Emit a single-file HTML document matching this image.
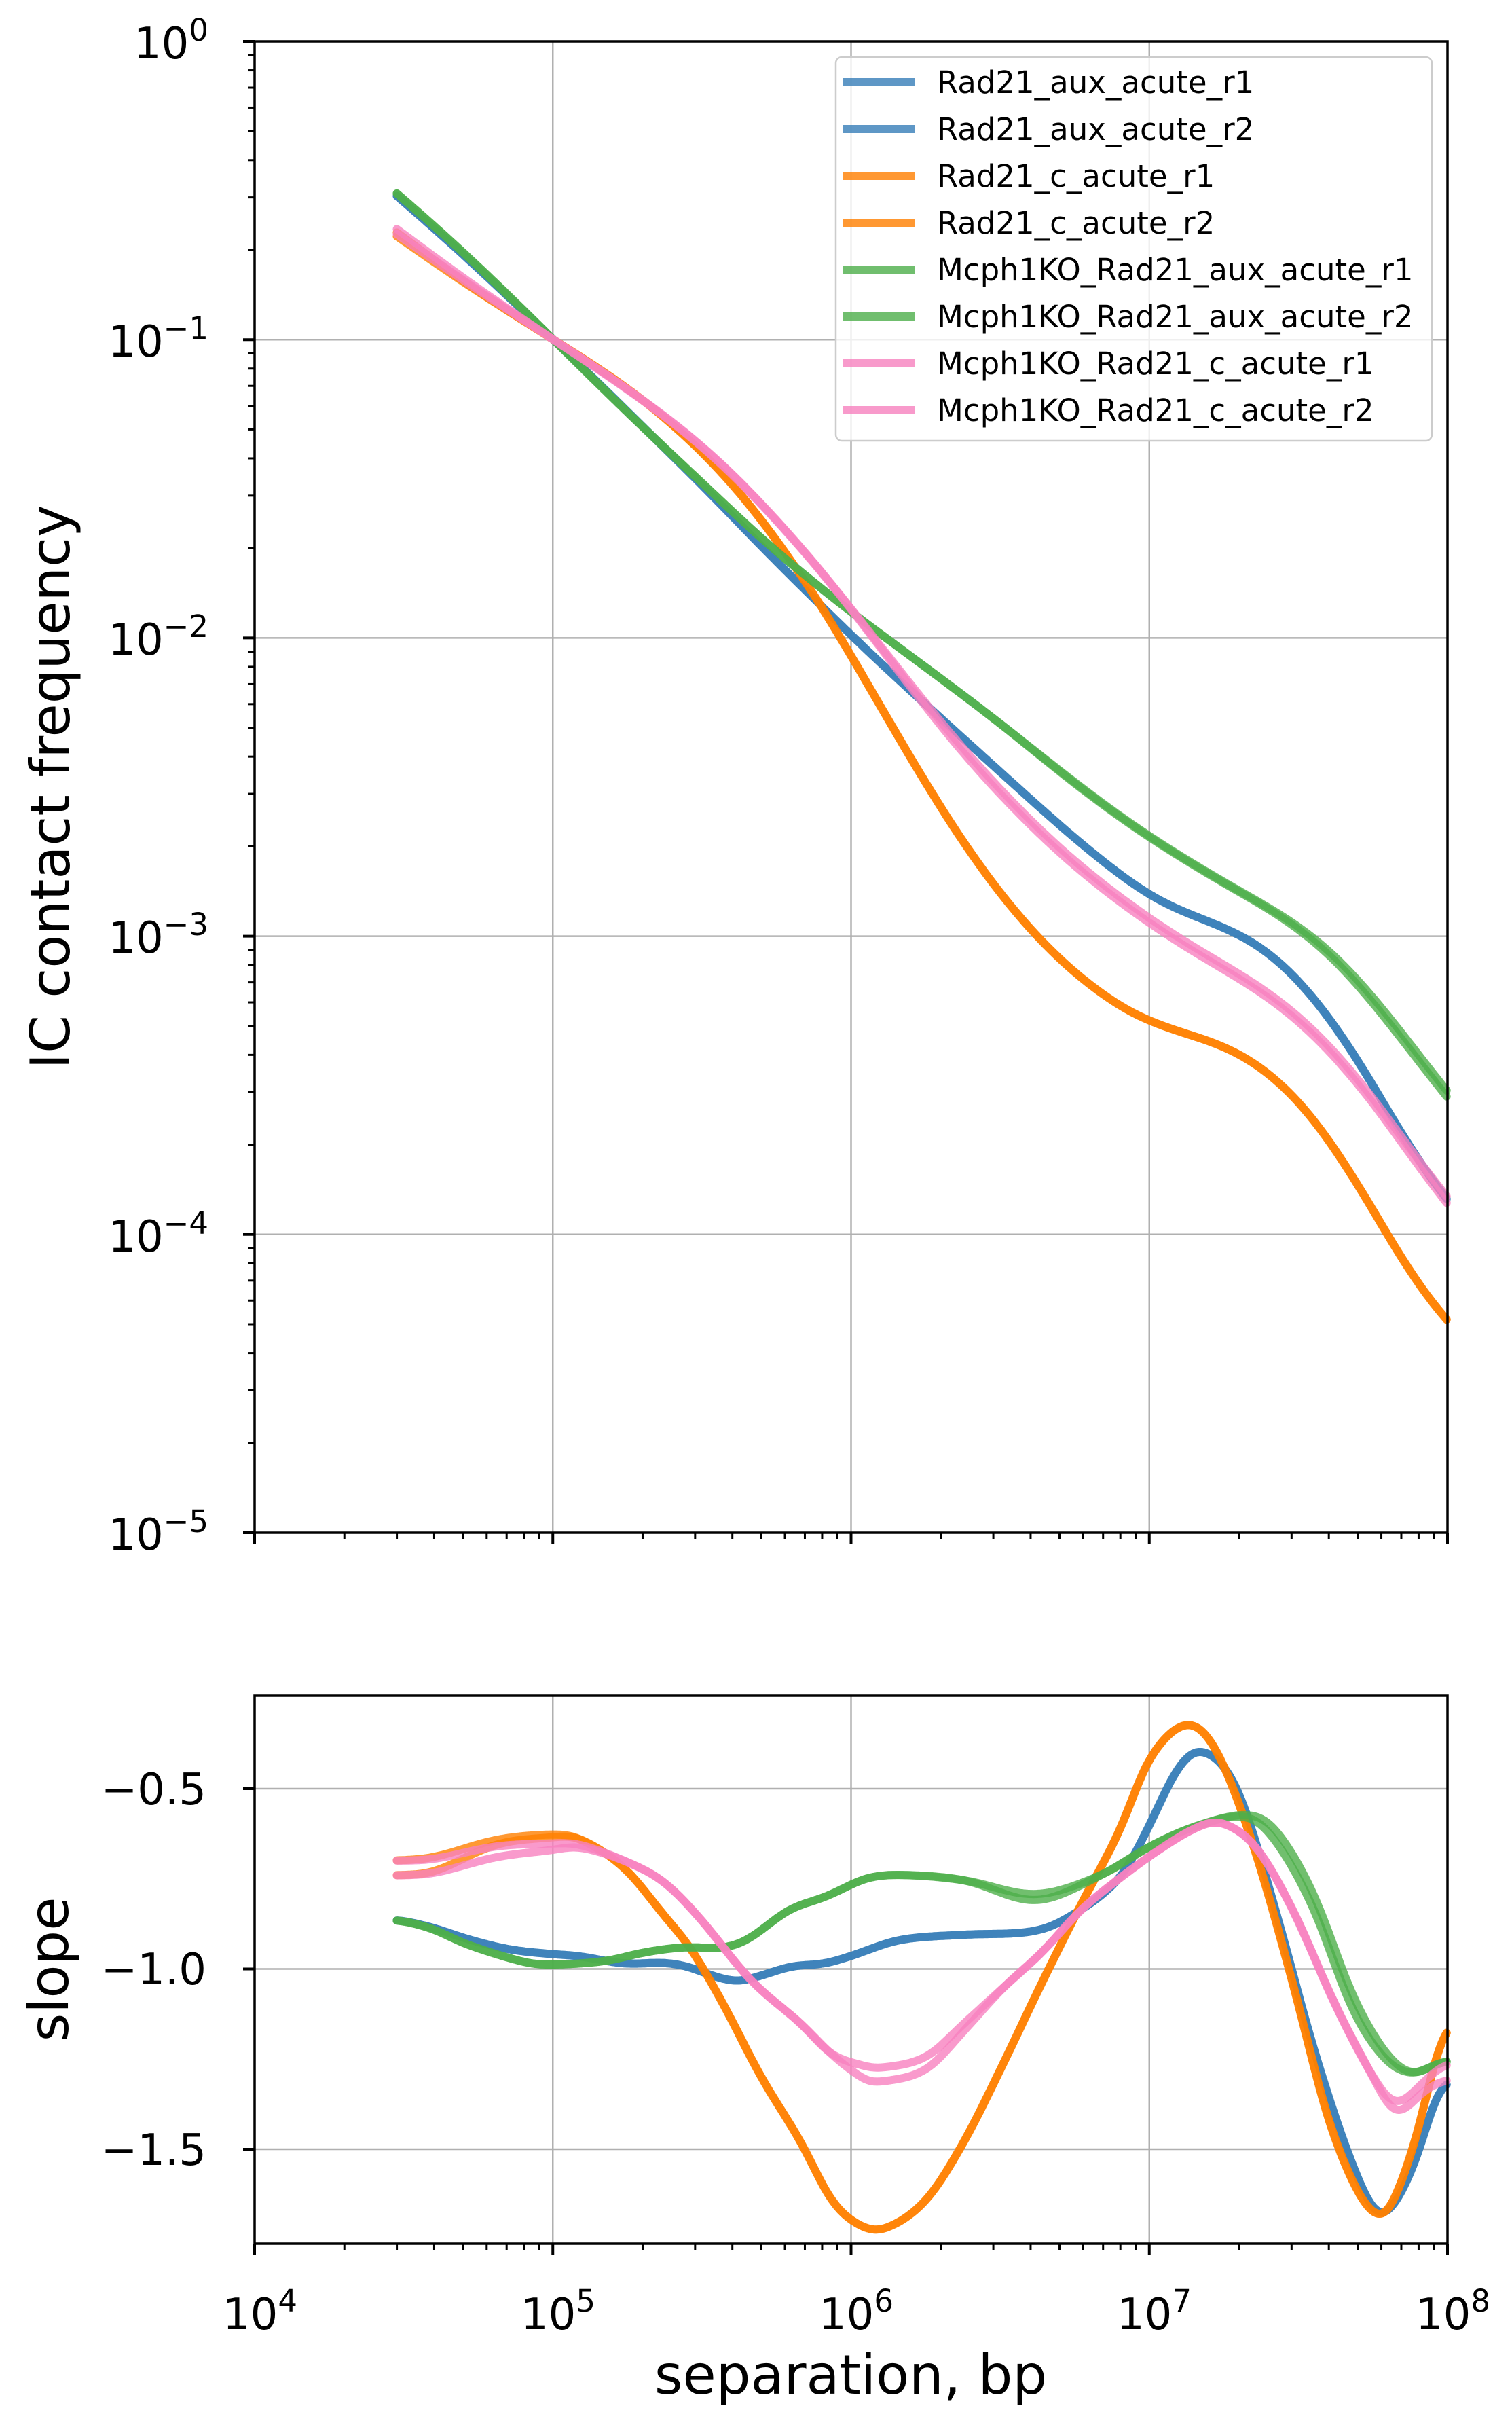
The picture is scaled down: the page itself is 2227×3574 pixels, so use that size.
<!DOCTYPE html>
<html><head><meta charset="utf-8"><style>
html,body{margin:0;padding:0;background:#fff;}
svg{display:block;}
text{font-family:"DejaVu Sans","Liberation Sans",sans-serif;fill:#000;}
</style></head><body>
<svg id="s" width="2227" height="3574" viewBox="0 0 2227 3574" xmlns="http://www.w3.org/2000/svg">
<rect width="2227" height="3574" fill="#fff"/>
<g id="grid" stroke="#b0b0b0" stroke-width="2.5" fill="none"></g>
<g id="curves" fill="none" stroke-linejoin="round" stroke-linecap="round"></g>
<g id="axes" stroke="#000" fill="none"></g>
<!-- legend -->
<rect x="1231" y="84" width="878" height="565" rx="9" fill="#fff" fill-opacity="0.8" stroke="#cccccc" stroke-width="2.5"/>
<g stroke-width="12" opacity="0.8">
<line x1="1242" y1="121" x2="1347" y2="121" stroke="#377eb8"/>
<line x1="1242" y1="190" x2="1347" y2="190" stroke="#377eb8"/>
<line x1="1242" y1="259" x2="1347" y2="259" stroke="#ff7f00"/>
<line x1="1242" y1="328" x2="1347" y2="328" stroke="#ff7f00"/>
<line x1="1242" y1="397" x2="1347" y2="397" stroke="#4daf4a"/>
<line x1="1242" y1="466" x2="1347" y2="466" stroke="#4daf4a"/>
<line x1="1242" y1="535" x2="1347" y2="535" stroke="#f781bf"/>
<line x1="1242" y1="604" x2="1347" y2="604" stroke="#f781bf"/>
</g>
<g font-size="45">
<text x="1380" y="137">Rad21_aux_acute_r1</text>
<text x="1380" y="206">Rad21_aux_acute_r2</text>
<text x="1380" y="275">Rad21_c_acute_r1</text>
<text x="1380" y="344">Rad21_c_acute_r2</text>
<text x="1380" y="413">Mcph1KO_Rad21_aux_acute_r1</text>
<text x="1380" y="482">Mcph1KO_Rad21_aux_acute_r2</text>
<text x="1380" y="551">Mcph1KO_Rad21_c_acute_r1</text>
<text x="1380" y="620">Mcph1KO_Rad21_c_acute_r2</text>
</g>
<!-- y tick labels top -->
<g font-size="64" text-anchor="end">
<text x="307" y="86">10<tspan font-size="45" dy="-26">0</tspan></text>
<text x="307" y="525">10<tspan font-size="45" dy="-26">−1</tspan></text>
<text x="307" y="964">10<tspan font-size="45" dy="-26">−2</tspan></text>
<text x="307" y="1403">10<tspan font-size="45" dy="-26">−3</tspan></text>
<text x="307" y="1843">10<tspan font-size="45" dy="-26">−4</tspan></text>
<text x="307" y="2282">10<tspan font-size="45" dy="-26">−5</tspan></text>
<text x="304" y="2657">−0.5</text>
<text x="304" y="2922">−1.0</text>
<text x="304" y="3188">−1.5</text>
</g>
<g font-size="64" text-anchor="middle">
<text x="383" y="3430">10<tspan font-size="45" dy="-26">4</tspan></text>
<text x="822" y="3430">10<tspan font-size="45" dy="-26">5</tspan></text>
<text x="1261" y="3430">10<tspan font-size="45" dy="-26">6</tspan></text>
<text x="1700" y="3430">10<tspan font-size="45" dy="-26">7</tspan></text>
<text x="2140" y="3430">10<tspan font-size="45" dy="-26">8</tspan></text>
</g>
<text x="1253" y="3525" font-size="80" text-anchor="middle">separation, bp</text>
<text transform="translate(102,1159) rotate(-90)" font-size="80" text-anchor="middle">IC contact frequency</text>
<text transform="translate(100,2900) rotate(-90)" font-size="80" text-anchor="middle">slope</text>
</svg>
<script>
(function(){
var NS="http://www.w3.org/2000/svg";
function X(l){return 375+(l-4)*439.25;}
function YT(lp){return 61-lp*439.2;}
function YS(s){return 2634+(-0.5-s)*531;}
function el(p,n,a){var e=document.createElementNS(NS,n);for(var k in a)e.setAttribute(k,a[k]);p.appendChild(e);return e;}
var grid=document.getElementById('grid'),axes=document.getElementById('axes'),cur=document.getElementById('curves');
for(var d=5;d<=7;d++){el(grid,'line',{x1:X(d),y1:61,x2:X(d),y2:2257});el(grid,'line',{x1:X(d),y1:2497,x2:X(d),y2:3304});}
for(var d=-1;d>=-4;d--){el(grid,'line',{x1:375,y1:YT(d),x2:2132,y2:YT(d)});}
[-0.5,-1,-1.5].forEach(function(s){el(grid,'line',{x1:375,y1:YS(s),x2:2132,y2:YS(s)});});
el(axes,'rect',{x:375,y:61,width:1757,height:2196,'stroke-width':3.5});
el(axes,'rect',{x:375,y:2497,width:1757,height:807,'stroke-width':3.5});
function xt(yb){for(var d=4;d<=8;d++){var x=X(d);el(axes,'line',{x1:x,y1:yb,x2:x,y2:yb+17,'stroke-width':4});
 if(d<8)for(var k=2;k<=9;k++){var xx=X(d+Math.log10(k));el(axes,'line',{x1:xx,y1:yb,x2:xx,y2:yb+9,'stroke-width':3});}}}
xt(2257);xt(3304);
for(var d=0;d>=-5;d--){var y=YT(d);el(axes,'line',{x1:358,y1:y,x2:375,y2:y,'stroke-width':4});
 if(d>-5)for(var k=2;k<=9;k++){var yy=YT(d-1+Math.log10(k));el(axes,'line',{x1:366,y1:yy,x2:375,y2:yy,'stroke-width':3});}}
[-0.5,-1,-1.5].forEach(function(s){el(axes,'line',{x1:358,y1:YS(s),x2:375,y2:YS(s),'stroke-width':4});});
function cr(pts,x){var n=pts.length;if(x<=pts[0][0])return pts[0][1];if(x>=pts[n-1][0])return pts[n-1][1];
 var i=0;while(i<n-2&&pts[i+1][0]<x)i++;
 var p0=pts[Math.max(i-1,0)],p1=pts[i],p2=pts[i+1],p3=pts[Math.min(i+2,n-1)];
 var h=p2[0]-p1[0],t=(x-p1[0])/h;
 var m1=(p2[1]-p0[1])/(p2[0]-p0[0])*h, m2=(p3[1]-p1[1])/(p3[0]-p1[0])*h;
 var t2=t*t,t3=t2*t;
 return (2*t3-3*t2+1)*p1[1]+(t3-2*t2+t)*m1+(-2*t3+3*t2)*p2[1]+(t3-t2)*m2;}
function mod(pts,ch){return pts.map(function(p){return [p[0],ch[p[0]]!==undefined?ch[p[0]]:p[1]];});}
function shift(pts,a,b,v){return pts.map(function(p){return [p[0],(p[0]>=a&&p[0]<=b)?p[1]+v:p[1]];});}
var blue=[[4.477,-0.862],[4.6,-0.886],[4.706,-0.915],[4.85,-0.945],[5.0,-0.959],[5.085,-0.964],[5.24,-0.985],[5.373,-0.983],[5.45,-0.993],[5.54,-1.02],[5.62,-1.034],[5.70,-1.018],[5.80,-0.993],[5.91,-0.985],[6.0,-0.964],[6.16,-0.92],[6.38,-0.905],[6.6,-0.897],[6.71,-0.866],[6.9,-0.749],[7.0,-0.603],[7.09,-0.45],[7.17,-0.393],[7.29,-0.49],[7.42,-0.827],[7.55,-1.218],[7.68,-1.54],[7.775,-1.685],[7.88,-1.56],[7.97,-1.33],[8.0,-1.29]];
var orange=[[4.477,-0.70],[4.6,-0.69],[4.81,-0.642],[5.0,-0.627],[5.085,-0.637],[5.24,-0.72],[5.373,-0.817],[5.46,-0.905],[5.57,-1.06],[5.70,-1.267],[5.83,-1.442],[5.935,-1.608],[6.03,-1.677],[6.109,-1.687],[6.25,-1.608],[6.38,-1.442],[6.51,-1.228],[6.64,-1.003],[6.77,-0.788],[6.9,-0.583],[7.0,-0.417],[7.13,-0.319],[7.228,-0.397],[7.358,-0.68],[7.488,-1.06],[7.618,-1.462],[7.775,-1.69],[7.88,-1.51],[7.94,-1.316],[8.0,-1.1]];
orange=shift(orange,5.3,6.95,-0.035);
var orange2=mod(orange,{4.477:-0.741,4.6:-0.73,4.81:-0.655,5.0:-0.635});
var pink=[[4.477,-0.70],[4.6,-0.695],[4.81,-0.66],[5.0,-0.652],[5.085,-0.654],[5.24,-0.70],[5.373,-0.759],[5.5,-0.866],[5.63,-1.0],[5.70,-1.06],[5.83,-1.15],[5.935,-1.237],[6.05,-1.27],[6.08,-1.276],[6.25,-1.245],[6.38,-1.15],[6.51,-1.052],[6.64,-0.954],[6.77,-0.837],[6.9,-0.749],[7.03,-0.671],[7.16,-0.607],[7.24,-0.593],[7.358,-0.661],[7.488,-0.847],[7.618,-1.09],[7.748,-1.296],[7.826,-1.374],[7.918,-1.315],[8.0,-1.25]];
var pink2=mod(pink,{4.477:-0.741,4.6:-0.734,4.81:-0.69,5.0:-0.67,5.085:-0.662,6.05:-1.31,6.08:-1.315,6.25:-1.28,6.38:-1.17,7.826:-1.40,7.918:-1.34,8.0:-1.30});
var green=[[4.477,-0.862],[4.6,-0.89],[4.706,-0.93],[4.915,-0.983],[5.0,-0.988],[5.176,-0.978],[5.307,-0.954],[5.438,-0.94],[5.58,-0.94],[5.66,-0.915],[5.79,-0.837],[5.92,-0.798],[6.05,-0.749],[6.16,-0.739],[6.38,-0.754],[6.62,-0.793],[6.84,-0.739],[7.0,-0.661],[7.16,-0.603],[7.33,-0.572],[7.42,-0.61],[7.55,-0.79],[7.68,-1.07],[7.79,-1.23],[7.88,-1.29],[7.97,-1.26],[8.0,-1.25]];
var green2=mod(green,{6.62:-0.81,7.33:-0.578,7.42:-0.64,7.55:-0.83,7.68:-1.11,7.79:-1.25});
var series=[[blue,'#377eb8'],[blue,'#377eb8'],[orange,'#ff7f00'],[orange2,'#ff7f00'],[green,'#4daf4a'],[green2,'#4daf4a'],[pink,'#f781bf'],[pink2,'#f781bf']];
var x0=4.477,x1=8,dx=0.005;
series.forEach(function(sr){
 var pts=sr[0],xs=[],raw=[];
 for(var x=x0;x<=x1+1e-9;x+=dx){xs.push(x);raw.push(cr(pts,x));}
 var n=raw.length,ss=[],sig=5;
 for(var i=0;i<n;i++){var w=0,a=0;for(var j=-15;j<=15;j++){var k=i+j;if(k<0||k>=n)continue;var g=Math.exp(-j*j/(2*sig*sig));w+=g;a+=g*raw[k];}ss.push(a/w);}
 var lp=[0];for(var i=1;i<n;i++)lp.push(lp[i-1]+(ss[i]+ss[i-1])/2*dx);
 var i5=Math.round((5-x0)/dx),off=-1-lp[i5];
 var dT='',dS='';
 for(var i=0;i<n;i++){var px=X(xs[i]).toFixed(1);
  dT+=(i?'L':'M')+px+','+YT(lp[i]+off).toFixed(1);
  dS+=(i?'L':'M')+px+','+YS(ss[i]).toFixed(1);}
 el(cur,'path',{d:dT,stroke:sr[1],'stroke-width':12,'stroke-opacity':0.8});
 el(cur,'path',{d:dS,stroke:sr[1],'stroke-width':12,'stroke-opacity':0.8});
});
})();
</script>
</body></html>
